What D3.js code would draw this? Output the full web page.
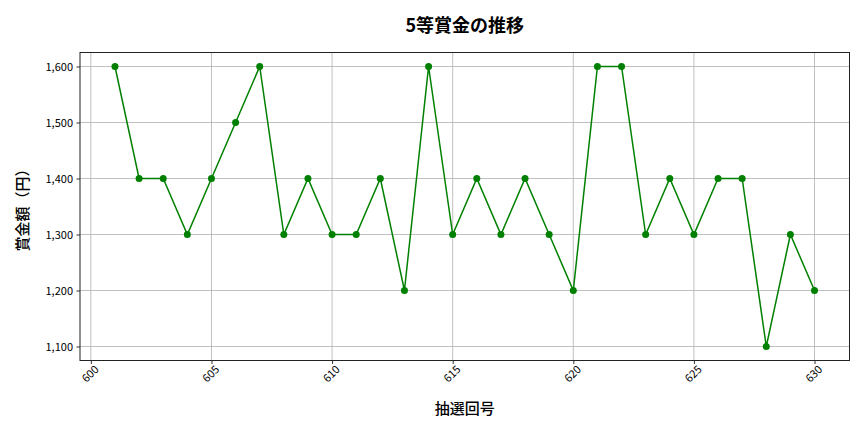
<!DOCTYPE html>
<html><head><meta charset="utf-8">
<script src="https://cdn.jsdelivr.net/npm/d3@7"></script>
<style>
body{margin:0;background:#fff;}
text{font-family:"Noto Sans CJK JP","Noto Sans",sans-serif;}
</style></head>
<body><svg id="c" width="864" height="432"></svg>
<script>
const draws = [601,602,603,604,605,606,607,608,609,610,611,612,613,614,615,616,617,618,619,620,621,622,623,624,625,626,627,628,629,630];
const prizes = [1600,1400,1400,1300,1400,1500,1600,1300,1400,1300,1300,1400,1200,1600,1300,1400,1300,1400,1300,1200,1600,1600,1300,1400,1300,1400,1400,1100,1300,1200];
const xTicks = [600,605,610,615,620,625,630];
const yTicks = [1100,1200,1300,1400,1500,1600];
const title = "5等賞金の推移";
const xLabel = "抽選回号";
const yLabel = "賞金額（円）";

const svg = d3.select("#c");
const L=80, R=849.5, T=52.5, B=360.5;
const xmin=d3.min(draws), xmax=d3.max(draws), xp=(xmax-xmin)*0.05;
const ymin=d3.min(prizes), ymax=d3.max(prizes), yp=(ymax-ymin)*0.05;
const x=d3.scaleLinear().domain([xmin-xp,xmax+xp]).range([L,R]);
const y=d3.scaleLinear().domain([ymin-yp,ymax+yp]).range([B,T]);

// grid
svg.append("g").selectAll("line").data(xTicks).join("line")
 .attr("x1",d=>x(d)).attr("x2",d=>x(d)).attr("y1",T).attr("y2",B)
 .attr("stroke","#b0b0b0").attr("stroke-width",0.8);
svg.append("g").selectAll("line").data(yTicks).join("line")
 .attr("y1",d=>y(d)).attr("y2",d=>y(d)).attr("x1",L).attr("x2",R)
 .attr("stroke","#b0b0b0").attr("stroke-width",0.8);

// axes
const xa=svg.append("g").attr("transform",`translate(0,${B})`)
 .call(d3.axisBottom(x).tickValues(xTicks).tickSize(3.5).tickPadding(3).tickFormat(d3.format("d")));
xa.selectAll("text").attr("font-size",11).attr("fill","#000")
 .attr("text-anchor","end").attr("dx","-0.1em").attr("dy","0.55em")
 .attr("transform","rotate(-45)");
const ya=svg.append("g").attr("transform",`translate(${L},0)`)
 .call(d3.axisLeft(y).tickValues(yTicks).tickSize(3.5).tickPadding(3.5).tickFormat(d3.format(",")));
ya.selectAll("text").attr("font-size",11).attr("fill","#000");
[xa,ya].forEach(a=>{a.select(".domain").remove();a.selectAll(".tick line").attr("stroke","#000").attr("stroke-width",0.8);});

svg.append("rect").attr("x",L).attr("y",T).attr("width",R-L).attr("height",B-T)
 .attr("fill","none").attr("stroke","#222").attr("stroke-width",1);

// line
svg.append("path").datum(draws.map((d,i)=>[d,prizes[i]]))
 .attr("d",d3.line().x(d=>x(d[0])).y(d=>y(d[1])))
 .attr("fill","none").attr("stroke","green").attr("stroke-width",1.5);
svg.append("g").selectAll("circle").data(draws).join("circle")
 .attr("cx",d=>x(d)).attr("cy",(d,i)=>y(prizes[i])).attr("r",3.5).attr("fill","green");

svg.append("text").attr("x",(L+R)/2).attr("y",32).attr("text-anchor","middle")
 .attr("font-size",18).attr("font-weight","bold").text(title);
svg.append("text").attr("x",(L+R)/2).attr("y",414).attr("text-anchor","middle")
 .attr("font-size",15).attr("font-weight","500").text(xLabel);
svg.append("text").attr("transform",`translate(28,${(T+B)/2}) rotate(-90)`).attr("text-anchor","middle")
 .attr("font-size",15).attr("font-weight","500").text(yLabel);
</script></body></html>
